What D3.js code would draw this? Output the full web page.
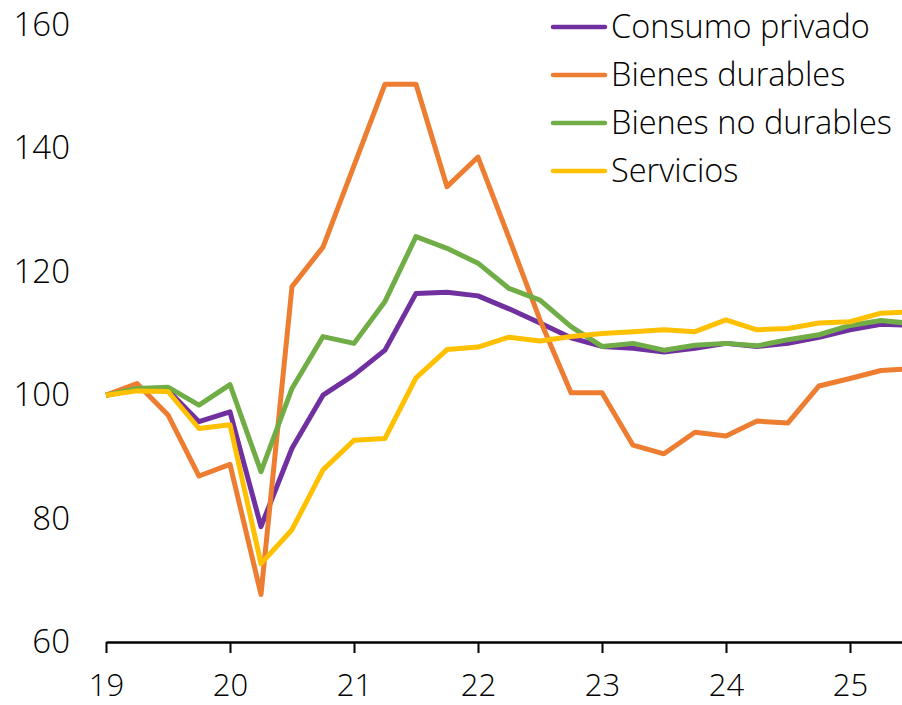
<!DOCTYPE html>
<html lang="es">
<head>
  <meta charset="UTF-8">
  <title>Consumo privado</title>
  <script src="https://d3js.org/d3.v7.min.js"></script>
  <style>
    body { margin: 0; background: #fff; }
    svg { display: block; font-family: "Open Sans", sans-serif; }
    .axis text { font-family: "Open Sans", sans-serif; font-size: 33px; fill: #000; font-weight: 300; }
    .axis.x text { font-size: 31px; }
    .legend text { font-family: "Open Sans", sans-serif; font-size: 32.5px; fill: #000; font-weight: 300; }
    .serie { fill: none; stroke-width: 5; stroke-linejoin: round; }
  </style>
</head>
<body>
  <svg width="902" height="705"></svg>

  <script>
    const width = 902, height = 705;

    // trimestres desde 2019T1 hasta 2025T3 (indice 0..26)
    const years = ["19", "20", "21", "22", "23", "24", "25"];
    const yTicks = [60, 80, 100, 120, 140, 160];

    const consumo = [100, 101.0, 100.8, 95.7, 97.3, 78.7, 91.4, 100.0, 103.3, 107.3, 116.5, 116.7, 116.1, 114.0, 111.7, 109.3, 107.9, 107.6, 107.0, 107.6, 108.4, 107.9, 108.4, 109.4, 110.6, 111.5, 111.3];
    const durables = [100, 101.9, 96.8, 86.9, 88.8, 67.7, 117.6, 124.0, 137.2, 150.4, 150.4, 133.8, 138.6, 125.5, 112.2, 100.4, 100.4, 91.9, 90.5, 94.0, 93.4, 95.8, 95.5, 101.5, 102.7, 104.0, 104.3];
    const noDurables = [100, 101.1, 101.3, 98.4, 101.7, 87.6, 101.1, 109.5, 108.4, 115.2, 125.7, 123.8, 121.4, 117.3, 115.4, 111.1, 107.9, 108.4, 107.3, 108.1, 108.4, 108.0, 109.0, 109.8, 111.3, 112.1, 111.6];
    const servicios = [100, 100.7, 100.6, 94.6, 95.2, 72.7, 78.2, 87.9, 92.7, 93.0, 102.8, 107.4, 107.8, 109.4, 108.8, 109.5, 110.0, 110.3, 110.6, 110.3, 112.2, 110.6, 110.8, 111.7, 111.9, 113.3, 113.5];

    const series = [
      { name: "Consumo privado", values: consumo, color: "#7030A0" },
      { name: "Bienes durables", values: durables, color: "#ED7D31" },
      { name: "Bienes no durables", values: noDurables, color: "#70AD47" },
      { name: "Servicios", values: servicios, color: "#FFC000" }
    ];

    const svg = d3.select("svg");

    const x = d3.scaleLinear().domain([0, 26]).range([106, 912]);
    const y = d3.scaleLinear().domain([60, 160]).range([642, 25]);

    // eje Y (solo etiquetas)
    svg.append("g")
      .attr("class", "axis")
      .attr("transform", "translate(76,0)")
      .call(d3.axisLeft(y).tickValues(yTicks).tickSize(0).tickPadding(6))
      .call(g => g.select(".domain").remove());

    // eje X
    const xAxis = svg.append("g")
      .attr("class", "axis x")
      .attr("transform", "translate(0,642)")
      .call(d3.axisBottom(x)
        .tickValues(years.map((d, i) => i * 4))
        .tickFormat((d, i) => years[i])
        .tickSize(11)
        .tickSizeOuter(0)
        .tickPadding(21));
    xAxis.select(".domain").attr("stroke", "#000").attr("stroke-width", 2.5);
    xAxis.selectAll(".tick line").attr("stroke", "#000").attr("stroke-width", 2);

    const line = d3.line()
      .x((d, i) => x(i))
      .y(d => y(d));

    svg.selectAll(".serie")
      .data(series)
      .enter().append("path")
      .attr("class", "serie")
      .attr("stroke", d => d.color)
      .attr("d", d => line(d.values));

    // leyenda
    const legend = svg.append("g").attr("class", "legend");
    const rows = legend.selectAll("g")
      .data(series)
      .enter().append("g")
      .attr("transform", (d, i) => `translate(553,${27 + i * 48})`);
    rows.append("line")
      .attr("x1", 0).attr("x2", 52)
      .attr("stroke", d => d.color)
      .attr("stroke-width", 4.5)
      .attr("stroke-linecap", "round");
    rows.append("text")
      .attr("x", 58)
      .attr("y", 11)
      .text(d => d.name);
  </script>
</body>
</html>
